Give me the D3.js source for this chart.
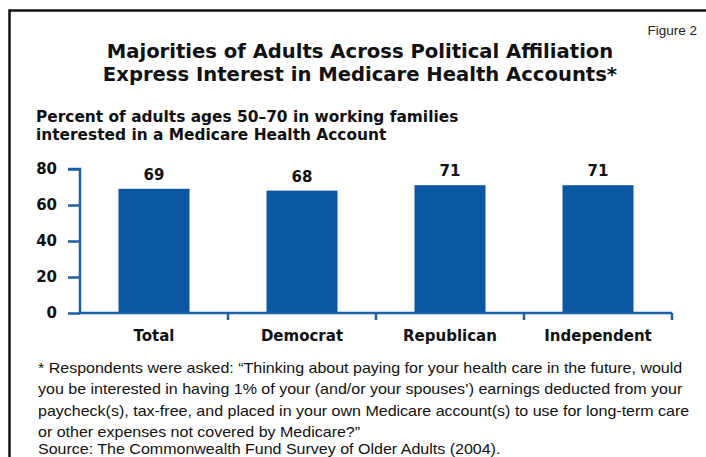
<!DOCTYPE html>
<html>
<head>
<meta charset="utf-8">
<script src="https://cdn.jsdelivr.net/npm/d3@7"></script>
<style>
  html, body { margin: 0; padding: 0; background: #fff; }
  svg { display: block; }
</style>
</head>
<body>
<svg id="chart" width="706" height="457"></svg>
<script>
// Survey results: share interested in a Medicare Health Account, by affiliation
const categories = ["Total", "Democrat", "Republican", "Independent"];
const values = [69, 68, 71, 71];
const yTicks = [0, 20, 40, 60, 80];

const titleLines = [
  "Majorities of Adults Across Political Affiliation",
  "Express Interest in Medicare Health Accounts*"
];
const subtitleLines = [
  "Percent of adults ages 50\u201370 in working families",
  "interested in a Medicare Health Account"
];
const noteLines = [
  "* Respondents were asked: \u201cThinking about paying for your health care in the future, would",
  "you be interested in having 1% of your (and/or your spouses\u2019) earnings deducted from your",
  "paycheck(s), tax-free, and placed in your own Medicare account(s) to use for long-term care",
  "or other expenses not covered by Medicare?\u201d"
];
const sourceText = "Source: The Commonwealth Fund Survey of Older Adults (2004).";

const svg = d3.select("#chart");
const blue = "#0c57a2";
const axisBlue = "#1d5fa8";
const heavy = "'DejaVu Sans', sans-serif";
const arial = "'Liberation Sans', Arial, sans-serif";

// Frame
svg.append("path")
  .attr("d", "M9.5,460 V10.5 H710")
  .attr("fill", "none")
  .attr("stroke", "#111")
  .attr("stroke-width", 2.5);

svg.append("text")
  .attr("x", 697).attr("y", 35)
  .attr("text-anchor", "end")
  .attr("font-family", arial)
  .attr("font-size", 13.5)
  .attr("fill", "#222")
  .text("Figure 2");

svg.append("g").selectAll("text").data(titleLines).join("text")
  .attr("x", 360)
  .attr("y", (d, i) => 58 + i * 23)
  .attr("text-anchor", "middle")
  .attr("font-family", heavy)
  .attr("font-weight", "bold")
  .attr("font-size", 19.6)
  .attr("fill", "#111")
  .text(d => d);

svg.append("g").selectAll("text").data(subtitleLines).join("text")
  .attr("x", 36)
  .attr("y", (d, i) => 122 + i * 18)
  .attr("font-family", heavy)
  .attr("font-weight", "bold")
  .attr("font-size", 15.4)
  .attr("fill", "#111")
  .text(d => d);

// Plot area
const x0 = 80, x1 = 672, yTop = 169, yBase = 313;
const x = d3.scaleBand().domain(categories).range([x0, x1]).paddingInner(0.52).paddingOuter(0.26);
const y = d3.scaleLinear().domain([0, 80]).range([yBase, yTop]);

// Bars
svg.append("g").selectAll("rect").data(values).join("rect")
  .attr("x", (d, i) => x(categories[i]))
  .attr("y", d => y(d))
  .attr("width", x.bandwidth())
  .attr("height", d => y(0) - y(d))
  .attr("fill", blue);

// Value labels
svg.append("g").selectAll("text").data(values).join("text")
  .attr("x", (d, i) => x(categories[i]) + x.bandwidth() / 2)
  .attr("y", d => y(d) - 9)
  .attr("text-anchor", "middle")
  .attr("font-family", heavy)
  .attr("font-weight", "bold")
  .attr("font-size", 15)
  .attr("fill", "#111")
  .text(d => d);

// Y axis
const yAxis = d3.axisLeft(y).tickValues(yTicks).tickSize(12).tickPadding(11);
const gy = svg.append("g").attr("transform", `translate(${x0},0)`).call(yAxis);
gy.select(".domain").attr("stroke", axisBlue).attr("stroke-width", 2.5)
  .attr("d", `M-12,${yTop}H0V${yBase}`);
gy.selectAll(".tick line").attr("stroke", axisBlue).attr("stroke-width", 2.5);
gy.selectAll(".tick text")
  .attr("font-family", heavy).attr("font-weight", "bold").attr("font-size", 15)
  .attr("fill", "#111");

// X axis: baseline with separators between categories
const sepX = categories.map((c, i) => x0 + (i + 1) * (x1 - x0) / categories.length);
svg.append("line")
  .attr("x1", x0).attr("x2", x1).attr("y1", yBase).attr("y2", yBase)
  .attr("stroke", axisBlue).attr("stroke-width", 2.5);
svg.append("g").selectAll("line").data(sepX).join("line")
  .attr("x1", d => d).attr("x2", d => d)
  .attr("y1", yBase).attr("y2", yBase + 7)
  .attr("stroke", axisBlue).attr("stroke-width", 2.5);

svg.append("g").selectAll("text").data(categories).join("text")
  .attr("x", d => x(d) + x.bandwidth() / 2)
  .attr("y", 341)
  .attr("text-anchor", "middle")
  .attr("font-family", heavy)
  .attr("font-weight", "bold")
  .attr("font-size", 15)
  .attr("fill", "#111")
  .text(d => d);

// Footnote and source, set in a slightly widened face
const notes = svg.append("g").attr("transform", "translate(38,0) scale(1.105,1)");
notes.selectAll("text.note").data(noteLines).join("text")
  .attr("class", "note")
  .attr("x", 0)
  .attr("y", (d, i) => 373 + i * 21.3)
  .attr("font-family", arial)
  .attr("font-size", 14.5)
  .attr("fill", "#111")
  .text(d => d);

notes.append("text")
  .attr("x", 0).attr("y", 454)
  .attr("font-family", arial)
  .attr("font-size", 14.5)
  .attr("fill", "#111")
  .text(sourceText);
</script>
</body>
</html>
